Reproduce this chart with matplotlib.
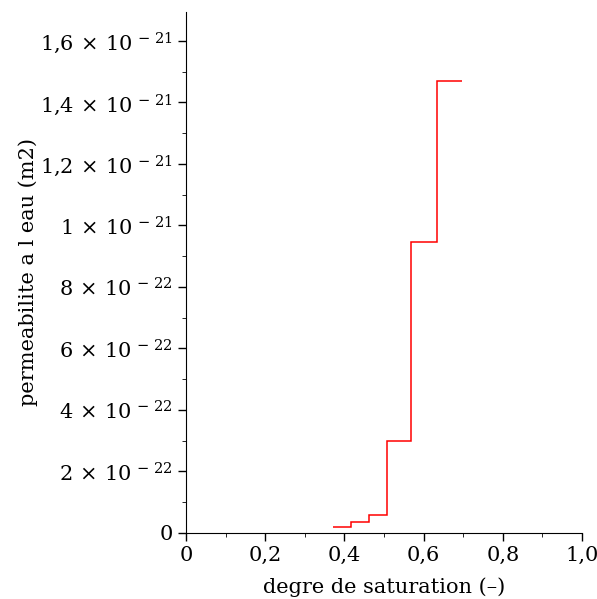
import numpy as np
import matplotlib.pyplot as plt
from matplotlib.ticker import FuncFormatter, MultipleLocator

# saturation class edges and permeability in each class
sat_edges = [0.370, 0.416, 0.461, 0.508, 0.569, 0.633, 0.696]
perm = [2.05e-23, 3.6e-23, 5.95e-23, 3.0e-22, 9.45e-22, 1.471e-21]

plt.rcParams['font.family'] = 'DejaVu Serif'
plt.rcParams['mathtext.fontset'] = 'dejavuserif'

fig = plt.figure(figsize=(5.97, 5.99), dpi=100)
ax = fig.add_axes([186/597, 66/599, 396/597, 521/599])

ax.stairs(perm, sat_edges, baseline=None, color='red', lw=1.1)

ax.set_xlim(0, 1.0)
ax.set_ylim(0, 1.694e-21)
for s in ['top', 'right']:
    ax.spines[s].set_visible(False)

def yfmt(v, pos):
    if v < 1e-30:
        return '0'
    e = int(np.floor(np.log10(v) + 1e-9))
    m = v / 10**e
    ms = ('%.1f' % m).rstrip('0').rstrip('.').replace('.', '{,}')
    return r'$%s\,\times\,10^{\,-\,%d}$' % (ms, -e)

def xfmt(v, pos):
    if abs(v) < 1e-9:
        return '0'
    return ('%.1f' % v).replace('.', ',')

ax.xaxis.set_major_locator(MultipleLocator(0.2))
ax.xaxis.set_minor_locator(MultipleLocator(0.1))
ax.yaxis.set_major_locator(MultipleLocator(2e-22))
ax.yaxis.set_minor_locator(MultipleLocator(1e-22))
ax.xaxis.set_major_formatter(FuncFormatter(xfmt))
ax.yaxis.set_major_formatter(FuncFormatter(yfmt))
ax.yaxis.get_offset_text().set_visible(False)
ax.tick_params(labelsize=15, length=6, width=1)
ax.tick_params(which='minor', length=3)

ax.set_xlabel('degre de saturation (–)', fontsize=15, labelpad=9)
ax.set_ylabel('permeabilite a l eau (m2)', fontsize=15)
ax.yaxis.set_label_coords(-148/396, 0.5)

fig.savefig('out.png', dpi=100)
